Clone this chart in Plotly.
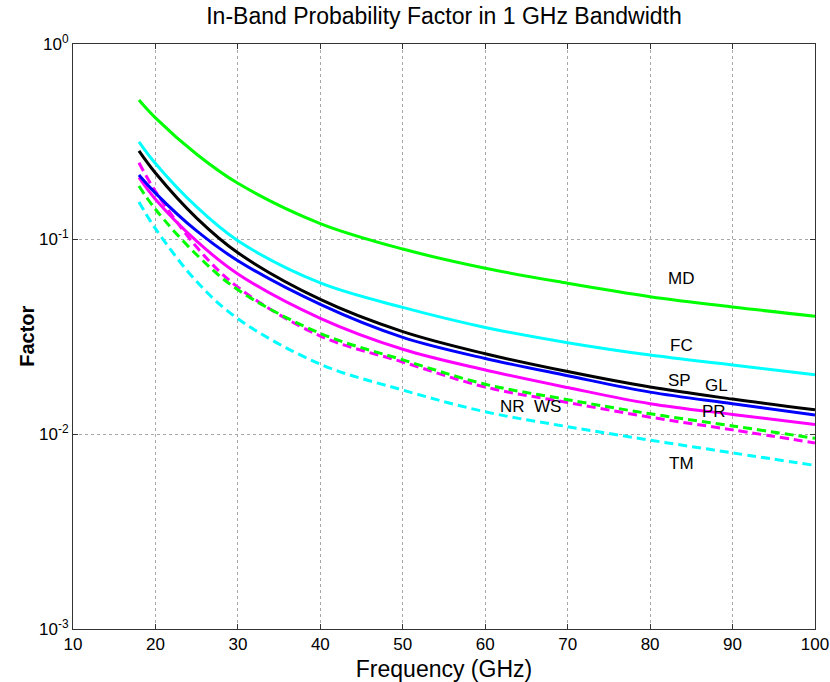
import math
import plotly.graph_objects as go

freq = [18, 20, 25, 30, 40, 50, 60, 70, 80, 90, 100]

md = [0.516, 0.418, 0.272, 0.193, 0.120, 0.0888, 0.0708, 0.0593, 0.0506, 0.0448, 0.0402]
fc = [0.315, 0.244, 0.146, 0.098, 0.0595, 0.0446, 0.0352, 0.0294, 0.0254, 0.0226, 0.0201]
gl = [0.283, 0.218, 0.128, 0.085, 0.049, 0.0335, 0.0258, 0.0209, 0.0174, 0.0151, 0.0133]
sp = [0.213, 0.172, 0.110, 0.0774, 0.0462, 0.0313, 0.0244, 0.0199, 0.0164, 0.0143, 0.0125]
pr = [0.207, 0.160, 0.0975, 0.0662, 0.0392, 0.0272, 0.0213, 0.0173, 0.0143, 0.0126, 0.0112]
nr = [0.246, 0.1756, 0.0909, 0.0566, 0.0318, 0.0234, 0.0174, 0.0145, 0.0122, 0.0105, 0.0090]
ws = [0.187, 0.142, 0.083, 0.0549, 0.0328, 0.0240, 0.0180, 0.0150, 0.0127, 0.0110, 0.0095]
tm = [0.155, 0.113, 0.0605, 0.039, 0.0228, 0.0168, 0.0130, 0.0109, 0.0093, 0.0080, 0.0069]

labels = ["MD", "FC", "SP", "GL", "PR", "NR", "WS", "TM"]
label_x = [83.8, 83.8, 83.6, 88.1, 87.8, 63.3, 67.6, 83.8]
label_y = [0.063, 0.0283, 0.0187, 0.0178, 0.0131, 0.0138, 0.0138, 0.0071]

xticks = [10, 20, 30, 40, 50, 60, 70, 80, 90, 100]
yticks = [1, 0.1, 0.01, 0.001]
ytext = ["10<sup>0</sup>", "10<sup>-1</sup>", "10<sup>-2</sup>", "10<sup>-3</sup>"]

series = [
    (md, "#00FF00", "solid"),
    (fc, "#00FFFF", "solid"),
    (nr, "#FF00FF", "dash"),
    (ws, "#00FF00", "dash"),
    (tm, "#00FFFF", "dash"),
    (pr, "#FF00FF", "solid"),
    (sp, "#0000FF", "solid"),
    (gl, "#000000", "solid"),
]

FONT = "Liberation Sans, Arial, sans-serif"

fig = go.Figure()
for vals, col, dash in series:
    fig.add_trace(go.Scatter(
        x=freq, y=vals, mode="lines",
        line=dict(color=col, width=3, dash="9px,5px" if dash == "dash" else "solid",
                  shape="spline", smoothing=1.0),
        showlegend=False, hoverinfo="skip"))

for t, lx, ly in zip(labels, label_x, label_y):
    fig.add_annotation(x=lx, y=math.log10(ly), text=t, showarrow=False,
                       font=dict(family=FONT, size=17, color="black"))

# y-axis title placed as an annotation so it sits where the reference has it
fig.add_annotation(xref="paper", yref="paper", x=-0.063, y=0.5, text="<b>Factor</b>",
                   textangle=-90, showarrow=False, xanchor="center", yanchor="middle",
                   font=dict(family=FONT, size=20, color="black"))

axis_common = dict(
    showline=True, linecolor="#333333", linewidth=1, mirror="ticks",
    ticks="inside", ticklen=5, tickcolor="#333333",
    showgrid=True, gridcolor="#a8a8a8", griddash="dot", gridwidth=1,
    zeroline=False, automargin=False,
    tickfont=dict(family=FONT, size=17, color="black"),
)

fig.update_layout(
    width=830, height=682,
    margin=dict(l=73, r=15, t=44, b=53),
    paper_bgcolor="white", plot_bgcolor="white",
    title=dict(text="In-Band Probability Factor in 1 GHz Bandwidth",
               xref="paper", x=0.5, xanchor="center",
               y=0.977, yanchor="middle",
               font=dict(family=FONT, size=23, color="black")),
    xaxis=dict(range=[10, 100], tickvals=xticks,
               title=dict(text="Frequency (GHz)",
                          font=dict(family=FONT, size=23, color="black")),
               **axis_common),
    yaxis=dict(type="log", range=[-3, 0], tickvals=yticks, ticktext=ytext,
               **axis_common),
)

fig.write_html("out.html")
